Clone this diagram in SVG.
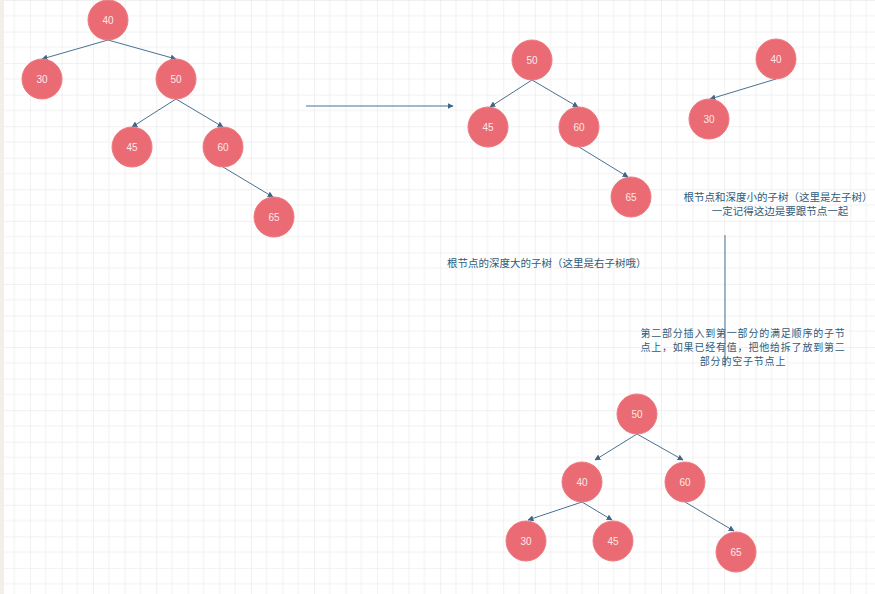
<svg xmlns="http://www.w3.org/2000/svg" width="875" height="594" viewBox="0 0 875 594">
<style>
.n circle{fill:#ea6b73;stroke:#ef7c82;stroke-width:1}
.n text{font-family:"Liberation Sans",Arial,sans-serif;font-size:10px;fill:#fde9ea;text-anchor:middle;dominant-baseline:central}
.e path{fill:none;stroke:#4b7191;stroke-width:1;marker-end:url(#ah)}
.lbl{font-family:"Noto Sans CJK SC","Noto Sans",sans-serif;font-size:10.5px;fill:#2f5b7a}
.lbl2{font-family:"Noto Sans CJK SC","Noto Sans",sans-serif;font-size:10px;letter-spacing:0.8px;fill:#2f5b7a}
</style>
<defs>
<marker id="ah" viewBox="0 0 10 10" refX="9" refY="5" markerWidth="6" markerHeight="6" orient="auto" markerUnits="userSpaceOnUse">
<path d="M0,0 L10,5 L0,10 z" fill="#3e6685"/>
</marker>
<pattern id="grid" x="-1.55" y="0" width="31.55" height="31.55" patternUnits="userSpaceOnUse">
<path d="M15.775,0 V31.55 M0,15.775 H31.55" stroke="#f1f1f1" stroke-width="1" fill="none"/>
<path d="M0,0 V31.55 M0,0 H31.55" stroke="#e3e3e3" stroke-width="1" fill="none"/>
</pattern>
</defs>
<rect width="875" height="594" fill="#ffffff"/>
<rect width="875" height="594" fill="url(#grid)"/>
<rect x="0" y="0" width="4" height="594" fill="#f2efe9"/>

<g id="connectors" class="e">
<path d="M108,40 L42,59"/>
<path d="M108,40 L176,59"/>
<path d="M176,99 L132,127"/>
<path d="M176,99 L223,127"/>
<path d="M223,167 L273,197"/>
<path d="M306,106 L453,106"/>
<path d="M532,80 L490,107"/>
<path d="M532,80 L578,107"/>
<path d="M579,147 L628,177"/>
<path d="M776,79 L710,99"/>
<path d="M725,235 L725,367" style="marker-end:none"/>
<path d="M637,434 L595,460"/>
<path d="M637,434 L683,460"/>
<path d="M582,502 L528,520"/>
<path d="M582,502 L612,520"/>
<path d="M685,502 L734,531"/>
</g>

<g id="t1-40" class="n"><circle cx="108" cy="20" r="20"/><text x="108" y="20">40</text></g>
<g id="t1-30" class="n"><circle cx="42" cy="79" r="20"/><text x="42" y="79">30</text></g>
<g id="t1-50" class="n"><circle cx="176" cy="79" r="20"/><text x="176" y="79">50</text></g>
<g id="t1-45" class="n"><circle cx="132" cy="147" r="20"/><text x="132" y="147">45</text></g>
<g id="t1-60" class="n"><circle cx="223" cy="147" r="20"/><text x="223" y="147">60</text></g>
<g id="t1-65" class="n"><circle cx="274" cy="217" r="20"/><text x="274" y="217">65</text></g>

<g id="t2-50" class="n"><circle cx="532" cy="60" r="20"/><text x="532" y="60">50</text></g>
<g id="t2-45" class="n"><circle cx="488" cy="127" r="20"/><text x="488" y="127">45</text></g>
<g id="t2-60" class="n"><circle cx="579" cy="127" r="20"/><text x="579" y="127">60</text></g>
<g id="t2-65" class="n"><circle cx="631" cy="197" r="20"/><text x="631" y="197">65</text></g>
<g id="t2-40" class="n"><circle cx="776" cy="59" r="20"/><text x="776" y="59">40</text></g>
<g id="t2-30" class="n"><circle cx="709" cy="119" r="20"/><text x="709" y="119">30</text></g>

<g id="t3-50" class="n"><circle cx="637" cy="414" r="20"/><text x="637" y="414">50</text></g>
<g id="t3-40" class="n"><circle cx="582" cy="482" r="20"/><text x="582" y="482">40</text></g>
<g id="t3-60" class="n"><circle cx="685" cy="482" r="20"/><text x="685" y="482">60</text></g>
<g id="t3-30" class="n"><circle cx="526" cy="541" r="20"/><text x="526" y="541">30</text></g>
<g id="t3-45" class="n"><circle cx="613" cy="541" r="20"/><text x="613" y="541">45</text></g>
<g id="t3-65" class="n"><circle cx="736" cy="552" r="20"/><text x="736" y="552">65</text></g>

<g id="label-left" class="lbl" text-anchor="middle">
<text x="778" y="201">根节点和深度小的子树（这里是左子树）</text>
<text x="780" y="215">一定记得这边是要跟节点一起</text>
</g>
<g id="label-right" class="lbl">
<text x="447" y="267">根节点的深度大的子树（这里是右子树哦）</text>
</g>
<g id="label-merge" class="lbl2" text-anchor="middle">
<text x="743" y="337">第二部分插入到第一部分的满足顺序的子节</text>
<text x="743" y="351">点上，如果已经有值，把他给拆了放到第二</text>
<text x="743" y="365">部分的空子节点上</text>
</g>
</svg>
